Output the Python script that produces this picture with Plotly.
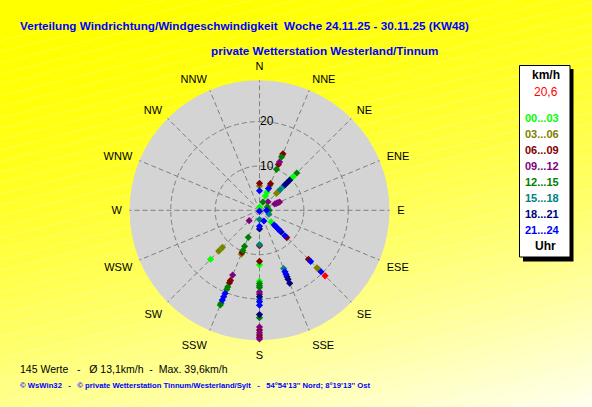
import plotly.graph_objects as go

# ---------------- data ----------------
compass = ["N", "NNE", "NE", "ENE", "E", "ESE", "SE", "SSE",
           "S", "SSW", "SW", "WSW", "W", "WNW", "NW", "NNW"]

bin_labels = ["00...03", "03...06", "06...09", "09...12",
              "12...15", "15...18", "18...21", "21...24"]
bin_colors = ["#00FF00", "#808000", "#800000", "#800080",
              "#008000", "#008080", "#000080", "#0000FF"]

# observations: direction, speed (km/h), hour bin index
obs_dir = (
    ["N"] * 4 +
    ["NNE"] * 12 +
    ["NE"] * 11 +
    ["ENE"] * 5 +
    ["E"] * 2 +
    ["ESE"] * 1 +
    ["SE"] * 13 +
    ["SSE"] * 7 +
    ["S"] * 26 +
    ["SSW"] * 15 +
    ["SW"] * 5
)
obs_speed = [
    6.1, 5.5, 4.4, 0.7,
    13.8, 13.4, 13.0, 11.8, 11.2, 10.0, 6.5, 6.0, 5.3, 4.4, 3.5, 2.0,
    11.9, 10.7, 10.1, 9.6, 8.9, 8.2, 7.8, 6.6, 6.0, 5.4, 2.7,
    4.9, 4.5, 4.1, 3.7, 1.9,
    2.2, 1.6,
    2.3,
    3.7, 4.7, 5.2, 5.9, 6.4, 6.9, 8.1, 8.7, 15.6, 16.3, 18.3, 18.8, 19.6,
    2.6, 14.2, 15.0, 15.6, 16.2, 16.8, 17.8,
    0.2, 2.1, 3.6, 4.2, 7.7, 8.0, 11.5, 12.3,
    16.0, 16.5, 17.0, 17.4, 18.4, 18.9, 19.5, 20.1, 20.6, 21.4, 23.5, 24.2,
    26.3, 27.0, 27.6, 28.1, 28.6, 29.0,
    6.6, 8.8, 9.8, 10.3, 10.7, 15.8, 17.1, 17.7, 18.7, 19.3, 20.3, 21.1,
    21.9, 22.7, 23.1,
    3.3, 11.8, 12.3, 13.0, 15.6,
]
obs_bin = [
    2, 1, 7, 0,
    2, 1, 4, 3, 2, 4, 2, 1, 7, 0, 0, 4,
    4, 0, 0, 6, 6, 6, 5, 5, 1, 1, 3,
    3, 3, 3, 3, 4,
    4, 7,
    5,
    0, 7, 7, 7, 7, 6, 7, 2, 2, 7, 1, 1, 7,
    7, 5, 7, 7, 6, 6, 6,
    7, 5, 7, 6, 5, 2, 2, 0,
    0, 4, 4, 4, 3, 3, 6, 5, 7, 7, 6, 4,
    3, 2, 3, 2, 2, 3,
    4, 4, 4, 2, 1, 3, 2, 2, 4, 4, 7, 7,
    7, 4, 4,
    3, 1, 0, 1, 0,
]

latest_dir = "SE"
latest_speed = 20.9
latest_label = "20,6"

radial_ticks = [10, 20]
stats_text = "145 Werte\u00a0\u00a0\u00a0-\u00a0\u00a0\u00a0Ø 13,1km/h\u00a0\u00a0-\u00a0\u00a0Max. 39,6km/h"
footer_text = ("© WsWin32\u00a0\u00a0\u00a0-\u00a0\u00a0\u00a0© private Wetterstation Tinnum/Westerland/Sylt"
               "\u00a0\u00a0\u00a0-\u00a0\u00a0\u00a054°54'13'' Nord; 8°19'13'' Ost")
title1 = "Verteilung Windrichtung/Windgeschwindigkeit\u00a0\u00a0Woche 24.11.25 - 30.11.25 (KW48)"
title2 = "private Wetterstation Westerland/Tinnum"

# ---------------- figure ----------------
W, H = 592, 407
FONT = "Liberation Sans, Arial, sans-serif"


def px(x):
    return x / W


def py(y):
    return 1 - y / H


deg = {c: i * 22.5 for i, c in enumerate(compass)}

fig = go.Figure()
for b, (lab, col) in enumerate(zip(bin_labels, bin_colors)):
    r = [s for s, bb in zip(obs_speed, obs_bin) if bb == b]
    th = [deg[d] for d, bb in zip(obs_dir, obs_bin) if bb == b]
    fig.add_trace(go.Scatterpolar(r=r, theta=th, mode="markers", name=lab,
                                  marker=dict(symbol="diamond", size=5.5, color=col,
                                              line=dict(width=0)),
                                  showlegend=False, hoverinfo="skip"))
fig.add_trace(go.Scatterpolar(r=[latest_speed], theta=[deg[latest_dir]], mode="markers",
                              marker=dict(symbol="diamond", size=5.5, color="#FF0000"),
                              showlegend=False, hoverinfo="skip"))

# background gradient (diagonal yellow -> cream)
shapes = []
N = 48
c0, c1 = 30.0, 407 + 0.25 * 592
k = 0.25
for i in range(N):
    a = c0 + (c1 - c0) * i / N
    b = c0 + (c1 - c0) * (i + 1) / N
    if i == 0:
        a = -400
    if i == N - 1:
        b = 1400
    t = (i + 0.5) / N
    blue = int(round(240 * t ** 1.6))
    col = f"rgb(255,255,{blue})"
    xs = [-20, W + 20]
    pts = [(xs[0], a - k * xs[0]), (xs[1], a - k * xs[1]),
           (xs[1], b - k * xs[1]), (xs[0], b - k * xs[0])]
    path = "M " + " L ".join(f"{px(x):.5f},{py(y):.5f}" for x, y in pts) + " Z"
    shapes.append(dict(type="path", xref="paper", yref="paper", path=path,
                       fillcolor=col, line=dict(width=0), layer="below"))

# legend box
shapes.append(dict(type="rect", xref="paper", yref="paper",
                   x0=px(523), x1=px(573.5), y0=py(261.5), y1=py(69),
                   fillcolor="black", line=dict(width=0), layer="above"))
shapes.append(dict(type="rect", xref="paper", yref="paper",
                   x0=px(519.5), x1=px(570), y0=py(257), y1=py(65.5),
                   fillcolor="white", line=dict(color="black", width=1), layer="above"))

ann = []


def text(x, y, s, size, color="black", bold=False, xanchor="left"):
    ann.append(dict(x=px(x), y=py(y), xref="paper", yref="paper", text=s,
                    showarrow=False, xanchor=xanchor, yanchor="middle",
                    font=dict(family=FONT, size=size, color=color,
                              weight="bold" if bold else "normal")))


text(18, 26, title1, 11.7, "#0000FF", True)
text(209, 50, title2, 11.7, "#0000FF", True)
text(18, 369, stats_text, 10.5)
text(18, 385, footer_text, 7.7, "#0000FF", True)

text(546, 75, "km/h", 12, "black", True, "center")
text(560, 92, latest_label, 12, "#FF0000", False, "right")
for i, (lab, col) in enumerate(zip(bin_labels, bin_colors)):
    text(542, 118 + i * 16, lab, 11, col, True, "center")
text(545, 246, "Uhr", 12, "black", True, "center")

cx, cy, R = 259.5, 210.3, 130
fig.update_layout(
    width=W, height=H, margin=dict(l=0, r=0, t=0, b=0),
    paper_bgcolor="rgba(0,0,0,0)", plot_bgcolor="rgba(0,0,0,0)",
    shapes=shapes, annotations=ann,
    font=dict(family=FONT, size=12, color="black"),
    polar=dict(
        domain=dict(x=[px(cx - R), px(cx + R)], y=[py(cy + R), py(cy - R)]),
        bgcolor="#D4D4D4",
        angularaxis=dict(rotation=90, direction="clockwise",
                         tickmode="array", tickvals=[deg[c] for c in compass],
                         ticktext=compass, ticks="outside", ticklen=5,
                         tickcolor="rgba(0,0,0,0)", showline=False,
                         showgrid=True, gridcolor="#808080", griddash="5px,3px", gridwidth=1,
                         tickfont=dict(size=11, family="Liberation Sans Narrow, " + FONT)),
        radialaxis=dict(range=[0, 29.3], tickmode="array", tickvals=radial_ticks,
                        ticktext=[str(v) for v in radial_ticks], angle=90, tickangle=90,
                        showline=False, ticks="", showgrid=True, gridcolor="#808080",
                        griddash="5px,3px", gridwidth=1,
                        tickfont=dict(size=12, color="black")),
    ),
)

fig.write_html("out.html", config={"displayModeBar": False, "staticPlot": True},
               post_script="document.body.style.margin='0';document.body.style.overflow='hidden';")
